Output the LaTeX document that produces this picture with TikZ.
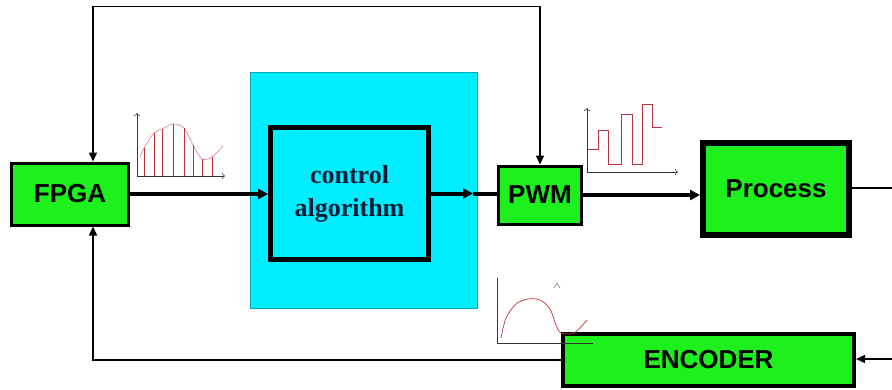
\documentclass[tikz,border=0pt]{standalone}
\usepackage{fontspec}
\setmainfont{Liberation Sans}
\newfontfamily\serifface{Liberation Serif}
\usetikzlibrary{arrows.meta, positioning, calc}
\definecolor{boxgreen}{RGB}{30,240,30}
\definecolor{algcyan}{RGB}{0,238,255}
\definecolor{sigred}{RGB}{190,50,60}
\definecolor{algtext}{RGB}{10,30,55}

\begin{document}
\begin{tikzpicture}[x=1pt, y=-1pt,
    unit/.style={draw, fill=boxgreen, inner sep=0pt, font=\bfseries\fontsize{26}{28}\selectfont},
    bus/.style={line width=4pt, -{Triangle[length=10pt,width=10pt]}},
    fback/.style={line width=1.5pt, >={Triangle[length=9pt,width=8pt]}},
    axis/.style={line width=0.6pt, black!80, -{To[length=3pt]}},
    sig/.style={sigred, line width=0.7pt},
]
    \useasboundingbox (0,0) rectangle (892,389);

    % Blocks
    \node[fill=algcyan, draw=algcyan!70!black, line width=0.6pt, minimum width=227pt, minimum height=236pt] (core) at (363.5,190) {};
    \node[draw, fill=algcyan, line width=5pt, minimum width=158pt, minimum height=132pt, align=center,
          font=\serifface\bfseries\fontsize{26}{33}\selectfont, text=algtext] (ctrl) at (349.5,193.5) {control\\algorithm};
    \node[unit, line width=3pt, minimum width=117pt, minimum height=62pt] (fpga) at (70,194) {FPGA};
    \node[unit, line width=3pt, minimum width=83pt, minimum height=58pt] (pwm) at (540,195) {PWM};
    \node[unit, line width=6pt, minimum width=146pt, minimum height=92pt] (proc) at (776,189) {Process};
    \node[unit, line width=4pt, minimum width=291pt, minimum height=52pt] (enc) at (708.5,360) {ENCODER};
    \coordinate (out) at (892,188);
    \coordinate (in) at (892,359);

    % Signal path
    \draw[bus] (fpga.east) -- (fpga.east -| ctrl.west);
    \draw[bus] (ctrl.east) -- ++(42,0) coordinate (mid);
    \draw[line width=4pt] (mid) -- (mid -| pwm.west);
    \draw[bus] (pwm.east) -- (pwm.east -| proc.west);
    \draw[line width=2pt] (proc.east |- out) -- (out);

    % Feedback
    \draw[fback, <->] ([xshift=23pt]fpga.north) -- ++(0,-155) -| (pwm.north);
    \draw[fback, ->] (in) -- (in -| enc.east);
    \draw[fback, ->] (enc.west) -| ([xshift=23pt]fpga.south);

    % Sampled signal
    \draw[axis] (137,176) -- (137,113);
    \draw[axis] (137,176) -- (225,176);
    \draw[sig, sigred!55, smooth] plot coordinates {(140,157) (144,148) (154,133) (162,129) (173,124) (184,128) (193,145) (202,159) (212,157) (223,146)};
    \foreach \x/\y in {144/148, 154/133, 162/129, 173/124, 184/128, 193/145, 202/159, 212/157}
        \draw[sig, line width=0.6pt] (\x,176) -- (\x,\y);

    % PWM signal
    \draw[axis] (587,172) -- (587,108);
    \draw[axis] (587,172) -- (678,172);
    \draw[sig] (587,149) -- (598,149) -- (598,130) -- (608,130) -- (608,164) -- (621,164) -- (621,114)
        -- (632,114) -- (632,164) -- (642,164) -- (642,104) -- (652,104) -- (652,127) -- (662,127);

    % Encoder signal
    \draw[line width=0.8pt, black!80] (497,343) -- (497,278);
    \draw[line width=0.8pt, black!80] (497,343) -- (593,343);
    \draw[sig, smooth] plot coordinates {(501,338) (506,318) (516,304) (528,299) (540,300) (550,309) (556,325) (561,333) (574,333) (587,320)};
    \draw[black!50, line width=0.6pt] (554,288) -- (557,283) -- (560,288);
\end{tikzpicture}
\end{document}
